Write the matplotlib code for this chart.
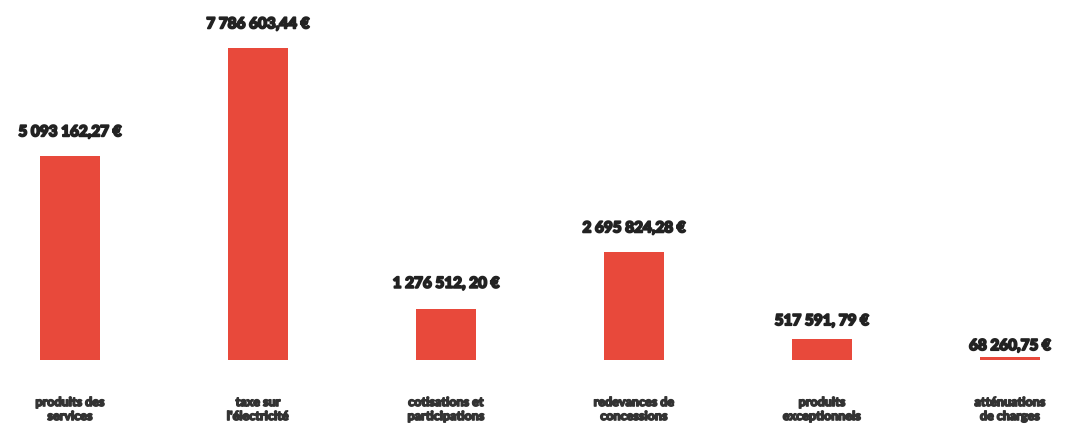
import matplotlib
matplotlib.use("Agg")
import matplotlib.pyplot as plt
import matplotlib.patheffects as pe

categories = ["produits des\nservices", "taxe sur\nl'électricité", "cotisations et\nparticipations",
              "redevances de\nconcessions", "produits\nexceptionnels", "atténuations\nde charges"]
values = [5093162.27, 7786603.44, 1276512.20, 2695824.28, 517591.79, 68260.75]
value_labels = ["5 093 162,27 €", "7 786 603,44 €", "1 276 512, 20 €",
                "2 695 824,28 €", "517 591, 79 €", "68 260,75 €"]

W, H = 1071, 424
fig = plt.figure(figsize=(W / 100, H / 100), dpi=100)
ax = fig.add_axes([0, 0, 1, 1])

spacing = 188.0
x0 = 70.0
xs = list(range(len(values)))
bar_w = 60 / spacing
ax.bar(xs, values, width=bar_w, color="#E8493B", edgecolor="none")

ax.set_xlim(-x0 / spacing, (W - x0) / spacing)
vmax = max(values)
base_px = 64
top_px = 376
scale = (top_px - base_px) / vmax
ax.set_ylim(-base_px / scale, (H - base_px) / scale)
ax.axis("off")

label_offsets = [17, 17, 18, 17, 13, 8]

font = dict(family=["Lato", "DejaVu Sans"], fontweight="black")
for x, v, lab, off in zip(xs, values, value_labels, label_offsets):
    ax.annotate(lab, (x, v), xytext=(0, off), textcoords="offset points",
                ha="center", va="center", fontsize=11, color="#222222",
                path_effects=[pe.withStroke(linewidth=1.3, foreground="#222222")], **font)

for x, cat in zip(xs, categories):
    ax.annotate(cat, (x, 0), xytext=(0, -26), textcoords="offset points",
                ha="center", va="top", fontsize=9, color="#333333",
                linespacing=1.2,
                path_effects=[pe.withStroke(linewidth=1.0, foreground="#333333")], **font)

fig.savefig("out.png", dpi=100, facecolor="white")
